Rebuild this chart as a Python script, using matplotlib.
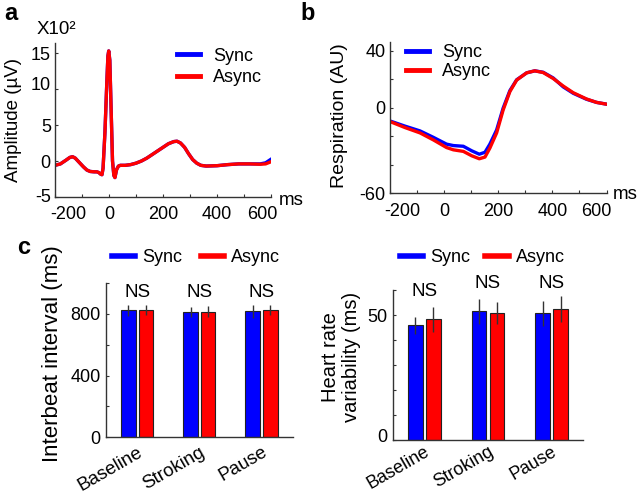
import matplotlib
matplotlib.use("Agg")
import matplotlib.pyplot as plt
from matplotlib.lines import Line2D
from matplotlib.transforms import ScaledTranslation
import numpy as np

plt.rcParams['font.family'] = ['Liberation Sans', 'DejaVu Sans']

# ---------------- data ----------------
# Panel a: ECG (x10^2 uV)
ecg_t = [-200, -180, -160, -145, -135, -125, -110, -95, -82, -70, -55, -45, -38, -30, -26,
         -22, -15, -8, -4, -1, 3, 8, 13, 18, 22, 28, 35, 42, 60, 80, 100, 120, 140, 160,
         180, 200, 220, 240, 252, 265, 280, 295, 310, 325, 340, 360, 400, 440, 480, 520,
         560, 580, 600]
ecg_async = [-0.6, -0.4, 0.1, 0.5, 0.6, 0.4, -0.2, -0.8, -1.25, -1.45, -1.5, -1.5, -1.6, -1.85, -1.9,
             -1.0, 4.0, 11.0, 14.6, 15.3, 14.0, 7.0, 0.0, -2.0, -2.3, -1.2, -0.7, -0.6, -0.6, -0.5,
             -0.3, 0.0, 0.4, 0.9, 1.4, 1.9, 2.4, 2.7, 2.75, 2.5, 1.9, 1.0, 0.2, -0.3, -0.6, -0.7,
             -0.65, -0.5, -0.4, -0.4, -0.45, -0.4, -0.1]
ecg_sync = [-0.6, -0.4, 0.1, 0.5, 0.6, 0.4, -0.2, -0.8, -1.25, -1.45, -1.5, -1.5, -1.6, -1.85, -1.9,
            -1.0, 4.0, 11.0, 14.6, 15.3, 14.0, 7.0, 0.0, -2.0, -2.3, -1.2, -0.7, -0.6, -0.6, -0.5,
            -0.3, 0.0, 0.4, 0.9, 1.4, 1.9, 2.4, 2.7, 2.75, 2.5, 1.9, 1.0, 0.2, -0.3, -0.6, -0.7,
            -0.65, -0.5, -0.4, -0.4, -0.4, -0.25, 0.25]

# Panel b: respiration (AU)
resp_t = [-200, -145, -89, -40, 9, 34, 71, 102, 130, 151, 169, 194, 218, 243, 268, 305, 335,
          366, 403, 440, 477, 526, 563, 598]
resp_async = [-9.7, -13.9, -17.7, -22.6, -28.0, -29.6, -30.7, -33.8, -35.9, -34.7, -28.4, -17.7,
              -1.6, 11.4, 19.5, 24.6, 26.0, 24.8, 20.6, 15.3, 10.6, 6.2, 3.8, 2.6]
resp_sync = [-9.3, -12.9, -16.3, -20.8, -25.6, -26.6, -27.1, -30.3, -32.7, -31.3, -25.6, -15.6,
             -0.3, 12.1, 19.7, 24.6, 26.0, 25.0, 21.0, 14.7, 10.2, 6.0, 3.8, 2.6]

# Panel c
conditions = ['Baseline', 'Stroking', 'Pause']
ibi_sync = [822, 812, 816]
ibi_async = [824, 813, 823]
ibi_sync_err = [35, 35, 40]
ibi_async_err = [33, 35, 33]
hrv_sync = [46.0, 51.5, 50.7]
hrv_async = [48.4, 50.9, 52.3]
hrv_sync_err = [3.4, 5.0, 5.0]
hrv_async_err = [5.0, 4.3, 5.2]
ibi_ns_y = [940, 940, 940]
hrv_ns_y = [59.3, 62.7, 62.7]

BLUE = '#0000ff'
RED = '#ff0000'
AX = '#333333'

W, H = 640, 493
fig = plt.figure(figsize=(6.4, 4.93), dpi=100)


def ax_px(l, t, r, b):
    return fig.add_axes([l / W, 1 - b / H, (r - l) / W, (b - t) / H])


def style(ax):
    for s in ['top', 'right']:
        ax.spines[s].set_visible(False)
    for s in ['left', 'bottom']:
        ax.spines[s].set_color(AX)
        ax.spines[s].set_linewidth(1.0)
    ax.tick_params(direction='in', length=2.5, width=0.8, colors=AX, labelcolor='black')


def shift_label(label, dx_px, dy_px):
    label.set_transform(label.get_transform() +
                        ScaledTranslation(dx_px / 100.0, -dy_px / 100.0, fig.dpi_scale_trans))


# ---- panel a ----
axa = ax_px(55, 43, 271, 197)
style(axa)
axa.plot(ecg_t, ecg_sync, color=BLUE, lw=2.4, label='Sync', solid_joinstyle='round')
axa.plot(ecg_t, ecg_async, color=RED, lw=2.4, label='Async', solid_joinstyle='round')
axa.set_xlim(-200, 600)
axa.set_ylim(-5, 16.4)
axa.set_xticks(np.arange(-200, 601, 100))
axa.set_xticklabels(['-200', '', '0', '', '200', '', '400', '', '600'])
axa.set_yticks([-5, 0, 5, 10, 15])
axa.set_yticklabels(['-5', '0', '5', '10', '15'])
axa.tick_params(axis='x', labelsize=13, pad=6.5)
axa.tick_params(axis='y', labelsize=13, pad=3)
xt = axa.xaxis.get_major_ticks()
shift_label(xt[0].label1, 13, 0)
shift_label(xt[8].label1, -9, 0)
shift_label(axa.yaxis.get_major_ticks()[3].label1, 0, -6)
shift_label(axa.yaxis.get_major_ticks()[0].label1, 0, -2)
leg = axa.legend(loc='center left', bbox_to_anchor=((177 - 55) / 216, (197 - 67) / 154),
                 frameon=False, fontsize=13, handlelength=1.3, handletextpad=0.7,
                 labelspacing=0.25, borderpad=0, borderaxespad=0)
for l in leg.get_lines():
    l.set_linewidth(3.5)
fig.text(14 / W, 1 - 120 / H, 'Amplitude (µV)', rotation=90, ha='center', va='center', fontsize=13.5)
fig.text(37 / W, 1 - 30 / H, 'X10²', ha='left', va='center', fontsize=13.5)
fig.text(279 / W, 1 - 205 / H, 'ms', ha='left', va='baseline', fontsize=13.5)
fig.text(4 / W, 1 - 14 / H, 'a', ha='left', va='center', fontsize=17, fontweight='bold')

# ---- panel b ----
axb = ax_px(390, 42, 606.5, 193)
style(axb)
axb.plot(resp_t, resp_sync, color=BLUE, lw=2.4, label='Sync', solid_joinstyle='round')
axb.plot(resp_t, resp_async, color=RED, lw=2.4, label='Async', solid_joinstyle='round')
axb.set_xlim(-200, 600)
axb.set_ylim(-60, 46.3)
axb.set_xticks(np.arange(-200, 601, 100))
axb.set_xticklabels(['-200', '', '0', '', '200', '', '400', '', '600'])
axb.set_yticks(np.arange(-60, 41, 20))
axb.set_yticklabels(['-60', '', '', '0', '', '40'])
axb.tick_params(axis='x', labelsize=13, pad=7.5)
axb.tick_params(axis='y', labelsize=13, pad=3)
xt = axb.xaxis.get_major_ticks()
shift_label(xt[0].label1, 12, 0)
shift_label(xt[8].label1, -10, 0)
leg = axb.legend(loc='center left', bbox_to_anchor=((406 - 390) / 216.5, (193 - 62) / 151),
                 frameon=False, fontsize=13, handlelength=1.3, handletextpad=0.7,
                 labelspacing=0.1, borderpad=0, borderaxespad=0)
for l in leg.get_lines():
    l.set_linewidth(3.5)
fig.text(340 / W, 1 - 116 / H, 'Respiration (AU)', rotation=90, ha='center', va='center', fontsize=14)
fig.text(613 / W, 1 - 199 / H, 'ms', ha='left', va='baseline', fontsize=13.5)
fig.text(300 / W, 1 - 14 / H, 'b', ha='left', va='center', fontsize=17, fontweight='bold')

# ---- panel c ----
x = np.arange(1, len(conditions) + 1)
bw = 0.235
off = 0.142


def bars(ax, s, a, se, ae, ns_y, lab_fs, lab_pad):
    style(ax)
    ax.bar(x - off, s, bw, color=BLUE, edgecolor='#222222', linewidth=0.8, label='Sync', zorder=2)
    ax.bar(x + off, a, bw, color=RED, edgecolor='#222222', linewidth=0.8, label='Async', zorder=2)
    ax.errorbar(x - off, s, yerr=se, fmt='none', ecolor='#333333', elinewidth=1.0, capsize=0, zorder=3)
    ax.errorbar(x + off, a, yerr=ae, fmt='none', ecolor='#333333', elinewidth=1.0, capsize=0, zorder=3)
    for xi, yi in zip(x, ns_y):
        ax.text(xi, yi, 'NS', ha='center', va='center', fontsize=13.5, clip_on=False)
    ax.set_xlim(0.5, 3.5)
    ax.set_xticks(x)
    ax.set_xticklabels(conditions, rotation=30, ha='right', rotation_mode='anchor', fontsize=lab_fs)
    ax.tick_params(axis='x', length=0, pad=lab_pad)
    ax.tick_params(axis='y', labelsize=13, pad=4)


hl = [Line2D([], [], color=BLUE, lw=4), Line2D([], [], color=RED, lw=4)]

axc1 = ax_px(106, 283, 292.7, 437.3)
bars(axc1, ibi_sync, ibi_async, ibi_sync_err, ibi_async_err, ibi_ns_y, 13.5, 4.5)
axc1.set_ylim(0, 1000)
axc1.set_yticks(np.arange(0, 1001, 200))
axc1.set_yticklabels(['0', '', '400', '', '800', ''])
axc1.legend(hl, ['Sync', 'Async'], loc='center left', ncol=2,
            bbox_to_anchor=((112 - 106) / 186.7, (437.3 - 258) / 154.3),
            frameon=False, fontsize=13, handlelength=1.3, handletextpad=0.4,
            columnspacing=1.0, borderpad=0, borderaxespad=0)
fig.text(53 / W, 1 - 354 / H, 'Interbeat interval (ms)', rotation=90, ha='center', va='center', fontsize=16)
fig.text(17 / W, 1 - 247 / H, 'c', ha='left', va='center', fontsize=17, fontweight='bold')

axc2 = ax_px(392.7, 290, 583.3, 440)
bars(axc2, hrv_sync, hrv_async, hrv_sync_err, hrv_async_err, hrv_ns_y, 13, 2.5)
axc2.set_ylim(0, 60)
axc2.set_yticks(np.arange(0, 61, 10))
axc2.set_yticklabels(['0', '', '', '', '', '50', ''])
shift_label(axc2.yaxis.get_major_ticks()[0].label1, 0, -5)
axc2.legend(hl, ['Sync', 'Async'], loc='center left', ncol=2,
            bbox_to_anchor=((400 - 392.7) / 190.6, (440 - 258) / 150),
            frameon=False, fontsize=13, handlelength=1.3, handletextpad=0.4,
            columnspacing=0.8, borderpad=0, borderaxespad=0)
fig.text(341 / W, 1 - 357 / H, 'Heart rate\nvariability (ms)', rotation=90, ha='center', va='center',
         fontsize=14.5, linespacing=1.15, multialignment='center')

fig.savefig('out.png', dpi=100)
